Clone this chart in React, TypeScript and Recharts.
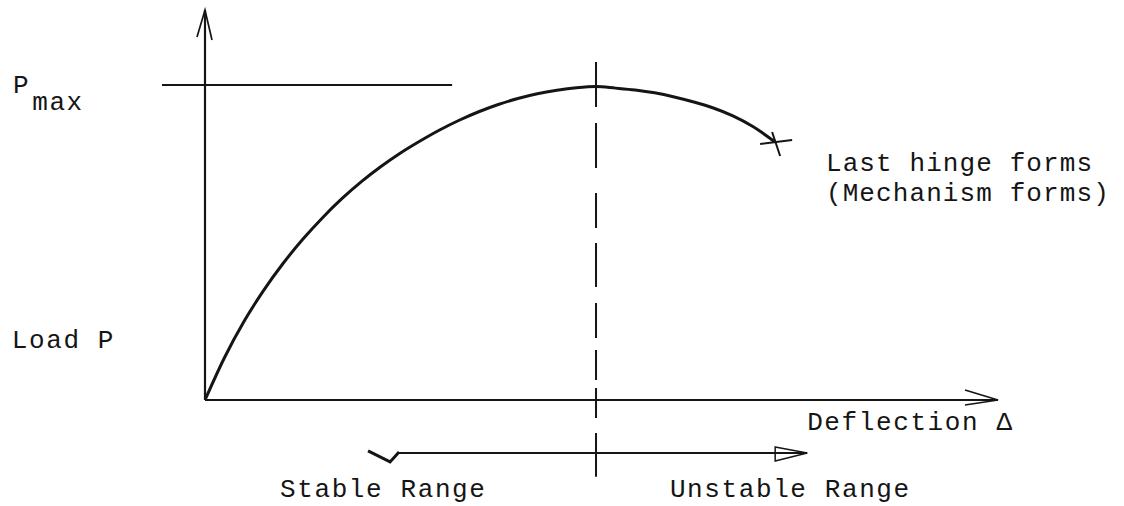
import React from "react";
import {
  LineChart,
  Line,
  XAxis,
  YAxis,
  ReferenceLine,
  ReferenceDot,
} from "recharts";

// deflection (fraction of deflection at P max) and load (fraction of P max)
const deflection = [0, 0.05, 0.1, 0.15, 0.2, 0.25, 0.3, 0.35, 0.4, 0.45, 0.5, 0.55, 0.6, 0.65, 0.7, 0.75, 0.8, 0.85, 0.9, 0.95, 1.0, 1.05, 1.1, 1.15, 1.2, 1.25, 1.3, 1.35, 1.4, 1.458];
const load = [0, 0.135, 0.25, 0.348, 0.434, 0.51, 0.578, 0.639, 0.693, 0.741, 0.784, 0.822, 0.857, 0.888, 0.915, 0.938, 0.957, 0.972, 0.983, 0.991, 0.995, 0.99, 0.984, 0.975, 0.962, 0.946, 0.927, 0.902, 0.869, 0.819];

const deltaAtPeak = 1.0;
const pMax = 1.0;
const xMax = 2.028;
const yMax = 1.238;

const data = deflection.map((d, i) => ({ d, p: load[i] }));

const INK = "#151515";
const FONT = "'Liberation Mono', 'DejaVu Sans Mono', monospace";

const textStyle = {
  fontFamily: FONT,
  fontSize: 26,
  letterSpacing: 1.6,
  fill: INK,
};

const Note = ({ lines, lineGap = 30, spacing = 1.6 }: { lines: string[]; lineGap?: number; spacing?: number }) =>
  (props: any) => (
    <g>
      {lines.map((l, i) => (
        <text
          key={i}
          x={props.cx}
          y={props.cy + i * lineGap}
          style={{ ...textStyle, letterSpacing: spacing }}
        >
          {l}
        </text>
      ))}
    </g>
  );

const PmaxLabel = (props: any) => (
  <text x={props.cx} y={props.cy} style={textStyle}>
    P
    <tspan dx={2} dy={17}>max</tspan>
  </text>
);

// axis line with an open arrowhead at its far end
const AxisArrow = (props: any) => {
  const { x1, y1, x2, y2 } = props;
  const vertical = Math.abs(x2 - x1) < Math.abs(y2 - y1);
  const head = vertical
    ? `M ${x2 - 8} ${y2 + 27} L ${x2} ${y2} L ${x2 + 7} ${y2 + 30}`
    : `M ${x2 - 33} ${y2 - 10} L ${x2} ${y2} L ${x2 - 33} ${y2 + 5}`;
  return (
    <g stroke={INK} fill="none">
      <line x1={x1} y1={y1} x2={x2} y2={y2} strokeWidth={2.2} />
      <path d={head} strokeWidth={1.7} />
    </g>
  );
};

const RangeArrow = (props: any) => {
  const { x1, y1, x2 } = props;
  return (
    <g stroke={INK} fill="none">
      <path d={`M ${x1} ${y1 - 2} L ${x1 + 22} ${y1 + 9} L ${x1 + 31} ${y1 - 1}`} strokeWidth={3} />
      <line x1={x1 + 31} y1={y1} x2={x2} y2={y1} strokeWidth={2} />
      <path d={`M ${x2 - 32} ${y1 - 6} L ${x2} ${y1} L ${x2 - 32} ${y1 + 8} Z`} strokeWidth={1.5} />
    </g>
  );
};

const lastIndex = data.length - 1;
const HingeDot = (props: any) => {
  const { cx, cy, index } = props;
  if (index !== lastIndex) return <g key={index} />;
  return (
    <g key={index} stroke={INK} strokeWidth={2} fill="none">
      <line x1={cx - 15} y1={cy + 2} x2={cx + 17} y2={cy - 2} />
      <line x1={cx - 3} y1={cy - 10} x2={cx + 5} y2={cy + 14} />
    </g>
  );
};

export default function App() {
  return (
    <div style={{ position: "absolute", left: 0, top: 0, width: 1124, height: 506, background: "#fff" }}>
      <LineChart
        width={1124}
        height={506}
        data={data}
        margin={{ top: 10, right: 126, bottom: 106, left: 205 }}
      >
        <XAxis type="number" dataKey="d" domain={[0, xMax]} allowDataOverflow hide />
        <YAxis type="number" dataKey="p" domain={[0, yMax]} allowDataOverflow hide />

        <ReferenceLine
          segment={[{ x: 0, y: 0 }, { x: 0, y: yMax }]}
          shape={AxisArrow}
          ifOverflow="visible"
        />
        <ReferenceLine
          segment={[{ x: 0, y: 0 }, { x: xMax, y: 0 }]}
          shape={AxisArrow}
          ifOverflow="visible"
        />

        <ReferenceLine
          segment={[{ x: -0.11, y: pMax }, { x: 0.632, y: pMax }]}
          stroke={INK}
          strokeWidth={2}
          ifOverflow="visible"
        />
        <ReferenceLine
          segment={[{ x: deltaAtPeak, y: 1.073 }, { x: deltaAtPeak, y: -0.244 }]}
          stroke={INK}
          strokeWidth={2}
          strokeDasharray="45 16 45 25 35 15 44 16 35 12 30 8 30 15 44"
          ifOverflow="visible"
        />
        <ReferenceLine
          segment={[{ x: 0.417, y: -0.168 }, { x: 1.54, y: -0.168 }]}
          shape={RangeArrow}
          ifOverflow="visible"
        />

        <Line
          type="monotone"
          dataKey="p"
          stroke={INK}
          strokeWidth={3}
          dot={HingeDot}
          activeDot={false}
          isAnimationActive={false}
        />

        <ReferenceDot x={-0.491} y={0.975} r={0} shape={PmaxLabel} ifOverflow="visible" />
        <ReferenceDot x={-0.494} y={0.165} r={0} shape={Note({ lines: ["Load P"] })} ifOverflow="visible" />
        <ReferenceDot x={1.54} y={-0.095} r={0} shape={Note({ lines: ["Deflection Δ"] })} ifOverflow="visible" />
        <ReferenceDot
          x={1.588}
          y={0.727}
          r={0}
          shape={Note({ lines: ["Last hinge forms", "(Mechanism forms)"], spacing: 1.1 })}
          ifOverflow="visible"
        />
        <ReferenceDot x={0.192} y={-0.308} r={0} shape={Note({ lines: ["Stable Range"] })} ifOverflow="visible" />
        <ReferenceDot x={1.189} y={-0.308} r={0} shape={Note({ lines: ["Unstable Range"] })} ifOverflow="visible" />
      </LineChart>
    </div>
  );
}
